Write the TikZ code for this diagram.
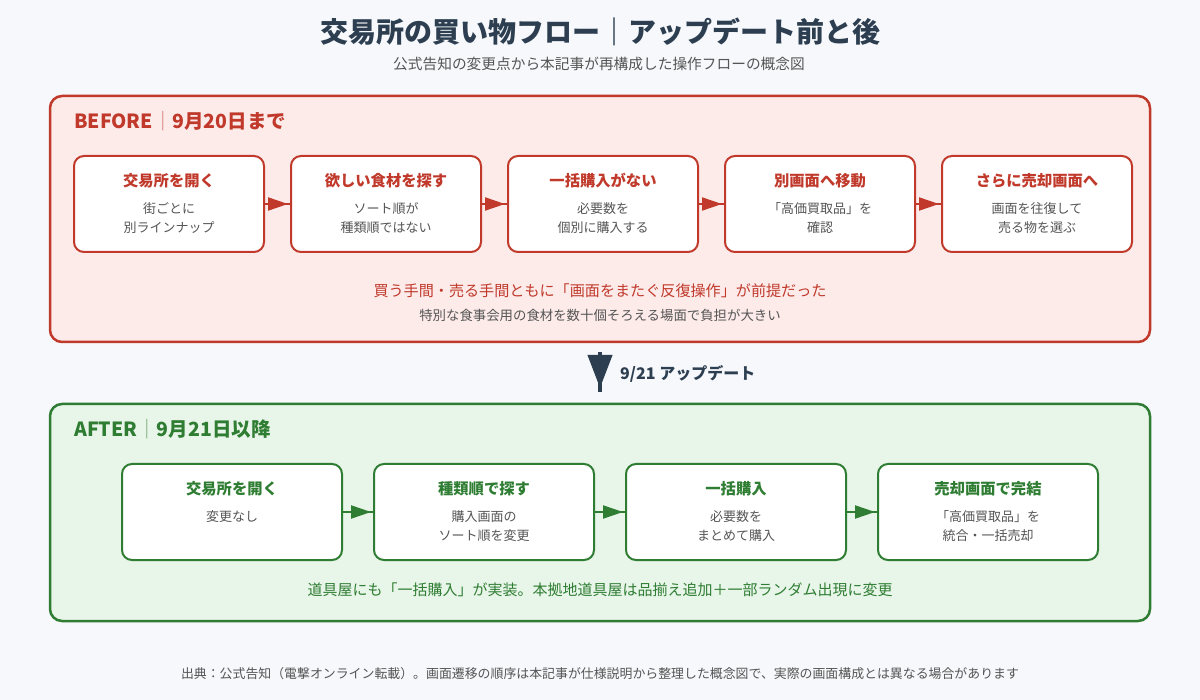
\documentclass[tikz,border=0pt]{standalone}
\usepackage{fontspec}
\setmainfont{Noto Sans CJK JP}
\usetikzlibrary{arrows.meta}
\definecolor{bgc}{HTML}{F6F8FB}
\definecolor{navy}{HTML}{2C3E50}
\definecolor{redc}{HTML}{C0392B}
\definecolor{redfill}{HTML}{FDEBEA}
\definecolor{greenc}{HTML}{2E7D32}
\definecolor{greenfill}{HTML}{E8F5E9}
\definecolor{txt}{HTML}{555555}
\definecolor{subc}{HTML}{555555}
\begin{document}
\begin{tikzpicture}[x=1pt,y=-1pt,
  panel/.style={draw, line width=2.5pt, rounded corners=12pt, inner sep=0pt, outer sep=0pt},
  boxst/.style={draw, fill=white, line width=2pt, rounded corners=10pt, minimum height=96pt, inner sep=0pt},
  btitle/.style={font=\fontsize{15.3}{18}\selectfont\bfseries},
  bbody/.style={font=\fontsize{13}{19}\selectfont, text=txt, align=center, inner sep=0pt},
  flowline/.style={line width=2pt},
  flowarrow/.style={line width=2pt, -{Triangle[length=20pt,width=13pt]}, shorten >=2pt},
  paneltitle/.style={anchor=west, font=\fontsize{19.5}{22}\selectfont\bfseries, inner sep=0pt},
]
\fill[bgc] (0,0) rectangle (1200,700);
\useasboundingbox (0,0) rectangle (1200,700);

% Title
\node[font=\fontsize{28}{32}\selectfont\bfseries, text=navy] (title) at (600,32) {交易所の買い物フロー｜アップデート前と後};
\node[font=\fontsize{14.7}{17}\selectfont, text=subc] (subtitle) at (599,64) {公式告知の変更点から本記事が再構成した操作フローの概念図};

% BEFORE panel
\node[panel, draw=redc, fill=redfill, minimum width=1100pt, minimum height=246pt] (before) at (600,219) {};
\node[paneltitle, text=redc] (beforet) at (74,121) {BEFORE{\color{redc!60}｜}9月20日まで};

\foreach \n/\cx/\t/\s in {
  1/169/交易所を開く/街ごとに\\別ラインナップ,
  2/386/欲しい食材を探す/ソート順が\\種類順ではない,
  3/603/一括購入がない/必要数を\\個別に購入する,
  4/820/別画面へ移動/「高価買取品」を\\確認,
  5/1037/さらに売却画面へ/画面を往復して\\売る物を選ぶ}{
  \node[boxst, draw=redc, minimum width=190pt] (r\n) at (\cx,204) {};
  \node[btitle, text=redc] (r\n t) at (\cx,181) {\t};
  \node[bbody] (r\n s) at (\cx,218) {\s};
}
\foreach \a/\b in {1/2,2/3,3/4,4/5}{
  \draw[flowline, redc] (r\a) -- (r\b);
  \draw[flowarrow, redc] (r\a) -- (r\b);
}
\node[font=\fontsize{15.1}{17}\selectfont, text=redc] (bnote1) at (600,291) {買う手間・売る手間ともに「画面をまたぐ反復操作」が前提だった};
\node[font=\fontsize{13.4}{16}\selectfont, text=txt] (bnote2) at (600,315) {特別な食事会用の食材を数十個そろえる場面で負担が大きい};

% AFTER panel
\node[panel, draw=greenc, fill=greenfill, minimum width=1100pt, minimum height=217pt] (after) at (600,512.5) {};
\node[paneltitle, text=greenc] (aftert) at (74,429) {AFTER{\color{greenc!60}｜}9月21日以降};

\foreach \n/\cx/\t/\s in {
  1/232/交易所を開く/変更なし\\\phantom{変},
  2/484/種類順で探す/購入画面の\\ソート順を変更,
  3/736/一括購入/必要数を\\まとめて購入,
  4/988/売却画面で完結/「高価買取品」を\\統合・一括売却}{
  \node[boxst, draw=greenc, minimum width=220pt] (g\n) at (\cx,512) {};
  \node[btitle, text=greenc] (g\n t) at (\cx,489) {\t};
  \node[bbody] (g\n s) at (\cx,526) {\s};
}
\foreach \a/\b in {1/2,2/3,3/4}{
  \draw[flowline, greenc] (g\a) -- (g\b);
  \draw[flowarrow, greenc] (g\a) -- (g\b);
}
\node[font=\fontsize{15}{17}\selectfont, text=greenc] (anote) at (600,590) {道具屋にも「一括購入」が実装。本拠地道具屋は品揃え追加＋一部ランダム出現に変更};

% update arrow
\draw[navy, line width=4pt, shorten <=10pt, shorten >=12pt] (before.south) -- (after.north);
\draw[navy, line width=4pt, -{Triangle[length=33pt,width=24pt]}, shorten <=10pt, shorten >=16pt] (before.south) -- (after.north);
\node[anchor=west, font=\fontsize{16}{19}\selectfont\bfseries, text=navy, inner sep=0pt] (upd) at (620,374) {9/21 アップデート};

% footnote
\node[font=\fontsize{12.9}{15}\selectfont, text=txt] (foot) at (600,674) {出典：公式告知（電撃オンライン転載）。画面遷移の順序は本記事が仕様説明から整理した概念図で、実際の画面構成とは異なる場合があります};
\end{tikzpicture}
\end{document}
